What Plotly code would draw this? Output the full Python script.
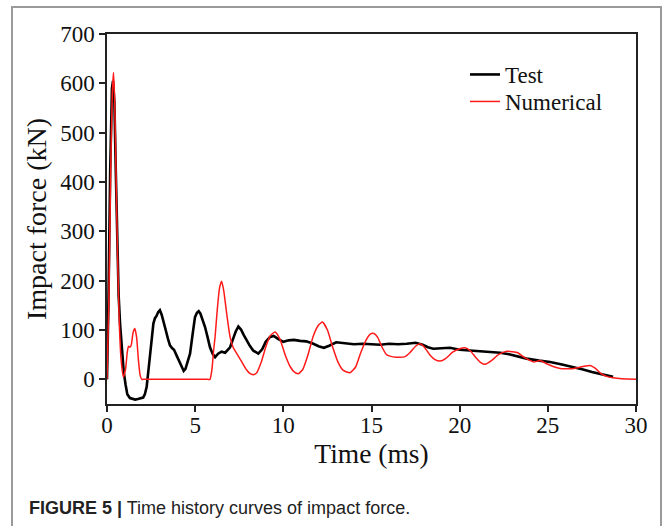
import plotly.graph_objects as go

# ---------------- data ----------------
test_time = [0, 0.08, 0.18, 0.28, 0.34, 0.42, 0.5, 0.58, 0.66, 0.74, 0.85, 0.95, 1.05, 1.15, 1.3,
             1.45, 1.6, 1.75, 1.9, 2.05, 2.15, 2.25, 2.35, 2.5, 2.63, 2.72, 2.8, 2.9, 3.0, 3.1, 3.2,
             3.3, 3.45, 3.57, 3.7, 3.8, 3.95, 4.1, 4.25, 4.35, 4.45, 4.6, 4.71, 4.85, 4.99, 5.1,
             5.2, 5.3, 5.45, 5.56, 5.7, 5.84, 6.0, 6.13, 6.3, 6.5, 6.7, 6.85, 6.98, 7.15, 7.3,
             7.45, 7.6, 7.75, 7.92, 8.1, 8.3, 8.58, 8.8, 9.0, 9.25, 9.45, 9.7, 10.0, 10.3, 10.6,
             10.95, 11.3, 11.7, 12.0, 12.3, 12.6, 13.0, 13.5, 14.0, 14.5, 15.0, 15.5, 16.0, 16.5,
             17.0, 17.5, 17.9, 18.2, 18.5, 19.0, 19.45, 20.0, 20.4, 21.0, 21.5, 22.3, 22.8,
             23.24, 23.8, 24.5, 25.13, 25.8, 26.45, 27.0, 27.5, 27.96, 28.3, 28.7]
test_force = [0, 150, 420, 590, 605, 560, 420, 260, 170, 113, 50, 15, -10, -30, -38,
              -40, -41, -40, -39, -37, -30, -15, 18, 70, 113, 124, 128, 136, 140, 131, 119,
              104, 83, 69, 63, 60, 48, 35, 22, 17, 21, 38, 52, 90, 126, 135,
              138, 133, 117, 106, 86, 65, 51, 45, 52, 56, 54, 59, 65, 82, 97,
              107, 101, 90, 79, 68, 58, 52, 61, 76, 86, 88, 82, 76, 79, 80,
              78, 77, 72, 67, 64, 68, 75, 73, 71, 72, 71, 70, 72, 71,
              72, 74, 70, 65, 62, 63, 64, 60, 59, 57, 56, 54, 51,
              47, 42, 38, 35, 30, 25, 20, 15, 11, 7, 5]

num_time = [0, 0.1, 0.2, 0.3, 0.37, 0.44, 0.52, 0.6, 0.7, 0.8, 0.93, 1.05, 1.15, 1.22, 1.3,
            1.38, 1.48, 1.58, 1.68, 1.78, 1.88, 1.97, 2.1, 5.7, 5.84, 5.95, 6.05, 6.13, 6.25, 6.38, 6.5,
            6.62, 6.8, 6.98, 7.15, 7.36, 7.6, 7.9, 8.1, 8.3, 8.5, 8.75, 9.0, 9.25, 9.53, 9.8,
            10.1, 10.4, 10.65, 10.85, 11.1, 11.4, 11.7, 12.0, 12.22, 12.5, 12.8, 13.1, 13.4,
            13.78, 14.1, 14.4, 14.7, 14.95, 15.14, 15.35, 15.6, 15.85, 16.05, 16.4, 16.9, 17.2,
            17.5, 17.75, 18.0, 18.3, 18.6, 18.89, 19.2, 19.6, 20.0, 20.3, 20.6, 20.9, 21.2,
            21.44, 21.8, 22.2, 22.67, 23.0, 23.3, 23.6, 24.0, 24.2, 24.56, 24.9, 25.3, 25.7,
            26.07, 26.5, 27.0, 27.4, 27.7, 28.0, 28.34, 28.7, 29.2, 30.0]
num_force = [0, 150, 400, 580, 622, 560, 400, 250, 110, 40, 5, 20, 55, 67, 65,
             70, 95, 103, 85, 40, 8, 0, 0, 0, 0, 20, 60, 86, 140, 185, 199,
             180, 130, 86, 65, 52, 38, 20, 12, 9.5, 14, 35, 65, 88, 96, 82,
             50, 25, 14, 11.5, 20, 50, 88, 110, 116, 100, 65, 35, 18,
             13.5, 25, 55, 80, 92, 93, 85, 65, 50, 47, 45, 46, 55,
             67, 72, 65, 50, 40, 37, 42, 55, 62, 64, 58, 45, 34,
             30.4, 38, 50, 56.8, 56, 54, 46, 38, 35, 38, 32, 26, 22,
             21.6, 22, 26, 28, 22, 12, 6, 3, 1, 0]

x_ticks = [0, 5, 10, 15, 20, 25, 30]
y_ticks = [0, 100, 200, 300, 400, 500, 600, 700]

series_names = ["Test", "Numerical"]
caption = "<b>FIGURE 5 |</b> Time history curves of impact force."

# ---------------- figure ----------------
W, H = 664, 526
ML, MR, MT, MB = 107, 28, 34, 122
PW, PH = W - ML - MR, H - MT - MB


def px_x(p):
    return (p - ML) / PW


def px_y(p):
    return (H - MB - p) / PH


serif = "Liberation Serif, Times New Roman, serif"

fig = go.Figure()
fig.add_trace(go.Scatter(x=test_time, y=test_force, mode="lines", name=series_names[0],
                         line=dict(color="#000000", width=2.6), legend="legend"))
fig.add_trace(go.Scatter(x=num_time, y=num_force, mode="lines", name=series_names[1],
                         line=dict(color="#ff1a1a", width=1.5, shape="spline", smoothing=0.5),
                         legend="legend2"))

axis_common = dict(showgrid=False, zeroline=False, showline=True, linecolor="#222222",
                   linewidth=1.5, mirror=True, ticks="outside", ticklen=6, tickwidth=1.5,
                   tickcolor="#222222", tickfont=dict(family=serif, size=23, color="#111111"))

fig.update_xaxes(range=[0, 30], tickvals=x_ticks, ticklabelstandoff=-6,
                 title=dict(text="Time (ms)", font=dict(family=serif, size=27.5, color="#111111"),
                            standoff=0),
                 **axis_common)
fig.update_yaxes(range=[-50, 700], tickvals=y_ticks,
                 title=dict(text="Impact force (kN)", font=dict(family=serif, size=28, color="#111111"),
                            standoff=5),
                 **axis_common)

# outer light frame
fig.add_shape(type="rect", xref="paper", yref="paper",
              x0=px_x(12), x1=px_x(661), y0=px_y(540), y1=px_y(7),
              line=dict(color="#9a9a9a", width=2), fillcolor="rgba(0,0,0,0)", layer="below")

fig.add_annotation(xref="paper", yref="paper", x=px_x(27), y=px_y(508),
                   xanchor="left", yanchor="middle", showarrow=False, text=caption,
                   font=dict(family="Liberation Sans, Arial, sans-serif", size=18, color="#222222"))

legend_style = dict(xanchor="left", yanchor="top", bgcolor="rgba(0,0,0,0)",
                    font=dict(family=serif, size=23, color="#111111"))

fig.update_layout(
    width=W, height=H,
    margin=dict(l=ML, r=MR, t=MT, b=MB),
    paper_bgcolor="white", plot_bgcolor="white",
    showlegend=True,
    legend=dict(x=px_x(465), y=px_y(53), **legend_style),
    legend2=dict(x=px_x(465), y=px_y(80), **legend_style),
)

fig.write_html("out.html", config={"displayModeBar": False},
               post_script="document.body.style.margin='0';")
